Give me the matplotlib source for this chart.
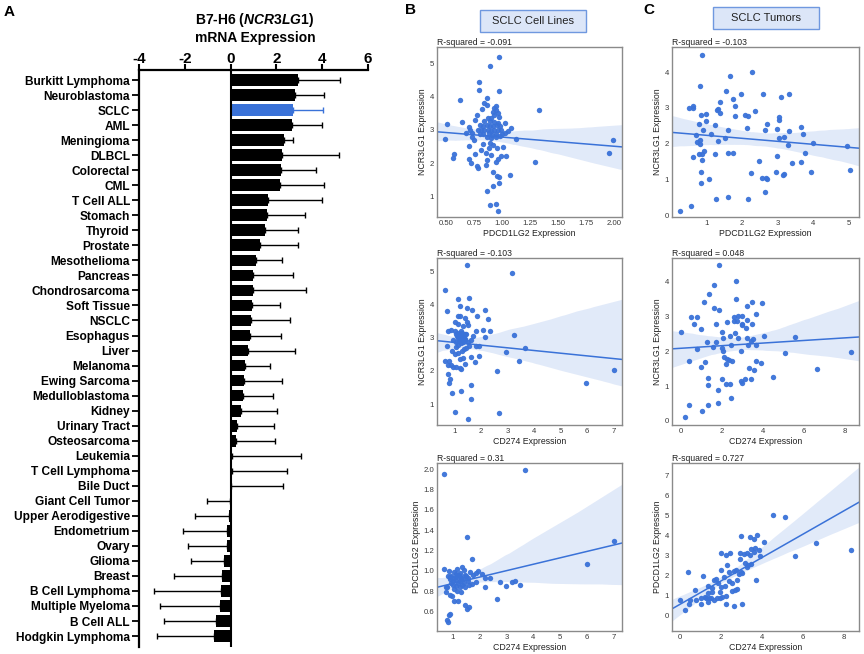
import matplotlib.pyplot as plt
from matplotlib.patches import Rectangle
import numpy as np
import seaborn as sns

plt.rcParams['font.family'] = ['Liberation Sans', 'DejaVu Sans']
plt.rcParams['axes.unicode_minus'] = False
plt.rcParams['mathtext.fontset'] = 'custom'
plt.rcParams['mathtext.it'] = 'Liberation Sans:italic:bold'
plt.rcParams['mathtext.rm'] = 'Liberation Sans:bold'

blue = '#3a72d8'

# panel A: mean expression and spread per tumour type
tumours = ['Burkitt Lymphoma', 'Neuroblastoma', 'SCLC', 'AML', 'Meningioma', 'DLBCL',
           'Colorectal', 'CML', 'T Cell ALL', 'Stomach', 'Thyroid', 'Prostate',
           'Mesothelioma', 'Pancreas', 'Chondrosarcoma', 'Soft Tissue', 'NSCLC',
           'Esophagus', 'Liver', 'Melanoma', 'Ewing Sarcoma', 'Medulloblastoma',
           'Kidney', 'Urinary Tract', 'Osteosarcoma', 'Leukemia', 'T Cell Lymphoma',
           'Bile Duct', 'Giant Cell Tumor', 'Upper Aerodigestive', 'Endometrium',
           'Ovary', 'Glioma', 'Breast', 'B Cell Lymphoma', 'Multiple Myeloma',
           'B Cell ALL', 'Hodgkin Lymphoma']
means = [2.94, 2.83, 2.72, 2.68, 2.35, 2.25, 2.22, 2.17, 1.64, 1.61, 1.49, 1.28,
         1.10, 0.99, 0.96, 0.93, 0.87, 0.83, 0.77, 0.65, 0.58, 0.52, 0.45, 0.29,
         0.25, 0.08, 0.07, 0.02, -0.02, -0.06, -0.17, -0.17, -0.29, -0.39, -0.41,
         -0.46, -0.65, -0.72]
sds = [1.84, 1.23, 1.31, 1.31, 0.36, 2.49, 1.52, 1.89, 2.35, 1.62, 1.45, 1.66,
       1.16, 1.73, 2.32, 1.23, 1.71, 1.37, 2.04, 1.06, 1.67, 1.34, 1.56, 1.62,
       1.71, 2.98, 2.39, 2.27, 1.02, 1.48, 1.92, 1.71, 1.43, 2.07, 2.95, 2.61,
       2.25, 2.51]

# panel B: SCLC cell lines, (x, y) per cell line
b1_pts = np.array([
    (0.97, 5.18), (0.89, 4.92), (0.79, 4.42), (0.79, 4.20), (0.97, 4.15), (0.62, 3.90), (0.86, 3.95),
    (0.84, 3.80), (0.86, 3.75), (0.94, 3.72), (0.93, 3.65), (0.94, 3.58), (0.92, 3.52), (0.96, 3.50),
    (0.93, 3.45), (0.77, 3.45), (0.82, 3.62), (1.33, 3.58), (0.97, 3.38), (1.02, 3.20), (0.87, 3.35),
    (0.90, 3.35), (0.84, 3.25), (0.89, 3.25), (0.93, 3.22), (0.96, 3.20), (0.64, 3.24), (0.51, 3.17),
    (0.70, 3.08), (0.80, 3.15), (0.83, 3.10), (0.86, 3.15), (0.89, 3.12), (0.92, 3.10), (0.95, 3.15),
    (0.98, 3.10), (0.78, 3.00), (0.81, 2.98), (0.84, 3.00), (0.87, 2.98), (0.90, 2.97), (0.93, 3.00),
    (0.96, 2.98), (0.99, 3.00), (0.71, 3.00), (0.73, 2.90), (0.80, 2.88), (0.83, 2.87), (0.88, 2.90),
    (0.91, 2.85), (0.94, 2.88), (1.00, 2.87), (1.02, 2.90), (0.86, 2.80), (0.90, 2.76), (0.94, 2.80),
    (0.98, 2.82), (0.68, 2.91), (0.49, 2.74), (0.73, 2.80), (1.12, 2.72), (1.99, 2.69), (1.95, 2.32),
    (0.83, 2.58), (0.89, 2.60), (0.92, 2.56), (0.70, 2.52), (0.57, 2.28), (0.56, 2.16), (0.76, 2.28),
    (0.70, 2.12), (0.72, 2.00), (0.77, 1.92), (1.29, 2.04), (0.85, 2.32), (0.86, 2.10), (0.94, 2.05),
    (0.96, 2.12), (0.99, 2.22), (1.03, 2.22), (0.90, 2.25), (1.07, 1.64), (0.92, 1.75), (0.95, 1.63),
    (0.97, 1.58), (0.97, 1.40), (0.92, 1.33), (0.86, 1.17), (0.89, 0.75), (0.94, 0.78), (0.96, 0.58),
    (0.78, 1.85), (0.85, 1.95), (0.81, 2.40), (0.95, 2.45), (1.01, 2.50), (0.88, 2.45), (0.75, 2.70),
    (1.05, 2.95), (1.08, 3.05), (0.76, 3.30)])

b2_pts = np.array([
    (1.48, 5.19), (3.15, 4.94), (0.64, 4.44), (1.14, 4.16), (1.54, 4.21), (1.19, 3.95), (1.48, 3.89),
    (1.64, 3.82), (0.71, 3.79), (2.14, 3.84), (2.25, 3.57), (1.84, 3.66), (1.14, 3.64), (1.21, 3.64),
    (1.01, 3.46), (1.12, 3.41), (1.41, 3.58), (1.48, 3.47), (1.50, 3.39), (1.31, 3.34), (0.75, 3.20),
    (0.87, 3.22), (1.00, 3.19), (1.24, 3.20), (1.81, 3.21), (2.06, 3.22), (2.34, 3.19), (2.15, 3.03),
    (3.25, 3.09), (1.10, 3.05), (1.15, 2.98), (1.22, 3.00), (1.28, 3.08), (1.35, 3.02), (1.40, 2.95),
    (1.18, 2.90), (1.25, 2.92), (1.32, 2.88), (1.45, 3.10), (1.05, 3.12), (1.12, 3.15), (1.38, 3.12),
    (1.20, 3.10), (1.30, 3.15), (1.26, 2.85), (0.94, 2.93), (1.04, 2.88), (1.41, 2.93), (1.50, 2.88),
    (1.62, 2.93), (1.68, 3.06), (1.04, 2.72), (1.14, 2.77), (0.71, 2.74), (1.81, 2.75), (1.91, 2.74),
    (3.66, 2.68), (2.94, 2.58), (0.91, 2.60), (1.00, 2.51), (1.12, 2.53), (1.94, 2.46), (1.62, 2.43),
    (1.19, 2.35), (1.31, 2.39), (3.44, 2.31), (0.66, 2.31), (0.81, 2.31), (1.79, 2.28), (1.39, 2.21),
    (0.75, 2.17), (0.87, 2.18), (0.96, 2.13), (1.06, 2.13), (1.25, 2.07), (1.22, 2.10), (2.60, 1.99),
    (7.00, 2.03), (0.76, 1.90), (0.84, 1.75), (0.78, 1.65), (1.62, 1.58), (5.96, 1.63), (0.91, 1.33),
    (1.26, 1.39), (1.61, 1.16), (1.01, 0.76), (2.69, 0.74), (1.49, 0.56), (1.35, 2.65), (1.45, 2.70),
    (1.55, 2.75), (1.28, 2.60)])

b3_pts = np.array([
    (0.68, 1.95), (3.70, 1.99), (1.53, 1.33), (7.00, 1.29), (1.71, 1.12), (6.01, 1.07), (0.66, 1.02),
    (0.85, 1.00), (1.05, 0.99), (1.15, 1.02), (1.25, 0.98), (1.40, 1.01), (1.45, 0.96), (0.95, 0.95),
    (1.10, 0.94), (1.20, 0.96), (1.30, 0.93), (1.50, 0.95), (0.90, 0.92), (1.00, 0.90), (1.12, 0.91),
    (1.25, 0.90), (1.38, 0.92), (1.55, 0.93), (1.75, 0.96), (1.87, 0.98), (1.95, 1.00), (2.08, 0.97),
    (2.39, 0.93), (0.81, 0.95), (0.88, 0.94), (1.00, 0.86), (1.12, 0.85), (1.25, 0.84), (1.35, 0.86),
    (1.45, 0.84), (1.15, 0.80), (1.30, 0.79), (1.60, 0.86), (1.72, 0.87), (1.85, 0.89), (0.80, 0.84),
    (0.76, 0.84), (2.20, 0.84), (2.21, 0.93), (2.76, 0.89), (2.98, 0.85), (3.21, 0.89), (3.31, 0.90),
    (3.51, 0.86), (2.65, 0.72), (0.73, 0.79), (0.88, 0.76), (0.98, 0.75), (1.04, 0.70), (1.19, 0.70),
    (1.44, 0.67), (1.54, 0.63), (1.59, 0.65), (0.84, 0.57), (0.88, 0.58), (0.79, 0.52), (0.81, 0.50),
    (1.05, 0.82), (1.20, 0.88), (1.40, 0.88), (1.10, 0.97), (1.65, 0.99), (1.35, 1.04), (1.58, 0.90),
    (1.02, 0.93), (0.95, 0.88), (1.28, 0.95)])

# panel C: SCLC tumours
c1_pts = np.array([
    (0.27, 0.11), (0.58, 0.26), (0.89, 4.47), (0.81, 3.62), (0.50, 3.00), (0.62, 3.00), (0.63, 3.04),
    (0.84, 2.79), (0.99, 2.82), (0.80, 2.55), (0.98, 2.62), (0.91, 2.39), (0.70, 2.25), (0.75, 2.05),
    (0.81, 1.99), (0.83, 2.11), (0.80, 1.70), (0.89, 1.70), (0.93, 1.80), (0.88, 1.53), (0.61, 1.62),
    (0.85, 1.22), (0.85, 0.90), (1.07, 1.01), (1.14, 2.27), (1.25, 2.52), (1.29, 2.95), (1.32, 2.98),
    (1.37, 2.86), (1.38, 3.17), (1.32, 2.08), (1.23, 1.70), (1.26, 0.45), (1.51, 2.15), (1.60, 2.37),
    (1.55, 3.48), (1.67, 3.88), (1.75, 3.24), (1.80, 3.05), (1.80, 2.78), (1.61, 1.75), (1.75, 1.75),
    (1.61, 0.50), (1.96, 3.38), (2.09, 2.79), (2.16, 2.76), (2.14, 2.44), (2.27, 4.00), (2.36, 2.90),
    (2.26, 1.19), (2.17, 0.45), (2.47, 1.51), (2.58, 3.39), (2.69, 2.55), (2.64, 2.39), (2.57, 1.04),
    (2.68, 1.04), (2.71, 1.02), (2.64, 0.64), (2.99, 2.41), (3.03, 2.74), (3.03, 2.65), (3.04, 2.15),
    (2.98, 1.66), (2.95, 1.20), (3.09, 3.29), (3.14, 1.12), (3.17, 1.14), (3.19, 2.18), (3.28, 1.97),
    (3.33, 2.34), (3.33, 3.38), (3.39, 1.45), (3.65, 2.46), (3.70, 2.27), (3.77, 1.73), (3.64, 1.49),
    (3.94, 1.20), (4.00, 2.02), (4.95, 1.94), (5.03, 1.26)])

c2_pts = np.array([
    (1.88, 4.50), (2.71, 4.02), (1.60, 3.90), (1.39, 3.65), (2.68, 3.51), (1.11, 3.41), (3.48, 3.42),
    (3.97, 3.39), (3.23, 3.31), (1.60, 3.26), (1.84, 3.19), (0.47, 2.99), (0.78, 2.99), (2.60, 3.00),
    (2.78, 3.02), (3.00, 3.02), (2.58, 2.88), (2.74, 2.88), (3.67, 3.07), (3.25, 2.90), (0.64, 2.80),
    (1.70, 2.80), (2.24, 2.84), (2.97, 2.80), (3.00, 2.76), (3.48, 2.78), (0.96, 2.64), (3.18, 2.67),
    (1.98, 2.57), (0.00, 2.57), (2.66, 2.52), (2.40, 2.44), (2.78, 2.39), (2.04, 2.39), (3.23, 2.40),
    (3.40, 2.30), (3.53, 2.35), (4.08, 2.45), (5.58, 2.42), (1.27, 2.27), (1.73, 2.28), (2.43, 2.18),
    (3.27, 2.17), (3.69, 2.17), (1.55, 2.13), (1.98, 2.10), (0.80, 2.07), (2.04, 2.00), (2.94, 2.02),
    (0.41, 1.72), (1.19, 1.70), (2.10, 1.83), (2.25, 1.77), (2.37, 1.75), (2.47, 1.71), (2.20, 1.63),
    (3.69, 1.73), (3.90, 1.66), (1.00, 1.54), (3.33, 1.52), (3.59, 1.45), (5.06, 1.95), (8.29, 1.97),
    (6.63, 1.49), (4.51, 1.27), (1.34, 1.23), (2.02, 1.20), (3.12, 1.20), (2.91, 1.14), (2.99, 1.09),
    (3.43, 1.21), (1.31, 1.02), (2.20, 1.06), (2.38, 1.07), (1.81, 0.90), (2.42, 0.66), (0.41, 0.46),
    (1.34, 0.47), (1.81, 0.50), (1.03, 0.27), (0.21, 0.11)])

c3_pts = np.array([
    (4.54, 5.03), (5.11, 4.95), (2.99, 4.00), (3.44, 3.95), (3.64, 3.83), (4.13, 3.67), (3.76, 4.05),
    (6.66, 3.65), (8.33, 3.28), (5.63, 2.98), (3.50, 3.35), (3.66, 3.40), (3.87, 3.30), (2.95, 3.15),
    (3.15, 3.10), (3.30, 3.12), (3.90, 3.00), (3.45, 3.05), (3.62, 3.18), (2.00, 3.15), (2.25, 3.03),
    (2.46, 3.12), (3.74, 1.78), (0.44, 2.17), (1.13, 1.97), (2.04, 2.27), (2.42, 2.17), (2.76, 2.28),
    (2.99, 2.20), (2.90, 2.10), (3.05, 2.15), (3.31, 2.45), (3.48, 2.58), (3.20, 2.62), (3.35, 2.55),
    (1.68, 1.78), (1.80, 1.82), (2.17, 1.95), (2.43, 1.75), (2.56, 1.65), (2.78, 1.78), (1.40, 1.50),
    (1.88, 1.62), (2.00, 1.42), (2.24, 1.50), (2.56, 1.25), (2.82, 1.32), (2.70, 1.30), (0.78, 1.28),
    (1.58, 1.17), (1.39, 1.12), (1.22, 0.95), (1.05, 0.87), (1.30, 0.88), (1.45, 0.87), (1.55, 0.87),
    (1.84, 0.87), (2.09, 0.95), (2.25, 1.00), (0.05, 0.78), (0.47, 0.62), (0.50, 0.78), (0.83, 0.78),
    (1.03, 0.62), (1.39, 0.70), (1.68, 0.78), (2.25, 0.62), (2.63, 0.52), (3.04, 0.62), (0.26, 0.28),
    (1.98, 0.88), (2.30, 2.55), (2.65, 2.25), (2.95, 2.85), (1.60, 1.40), (1.95, 1.20)])

W, H = 864, 654
fig = plt.figure(figsize=(8.64, 6.54), dpi=100)

# ---------- panel A ----------
axA = fig.add_axes([139 / W, 1 - 647 / H, 229 / W, 577 / H])
pos = np.arange(len(tumours))
for i, (m, s) in enumerate(zip(means, sds)):
    c = blue if tumours[i] == 'SCLC' else 'black'
    axA.barh(i, m, height=0.78, color=c)
    err = [[0], [s]] if m >= 0 else [[s], [0]]
    axA.errorbar(m, i, xerr=err, fmt='none', ecolor=c, elinewidth=1.0,
                 capsize=2.4, capthick=1.0)
axA.axvline(0, color='black', lw=1.5)
axA.set_xlim(-4, 6)
axA.set_ylim(37.73, -0.67)
axA.xaxis.tick_top()
axA.set_xticks([-4, -2, 0, 2, 4, 6])
axA.set_yticks(pos)
axA.set_yticklabels(tumours, fontweight='bold', fontsize=8.6)
for lab in axA.get_xticklabels():
    lab.set_fontweight('bold')
axA.tick_params(axis='x', labelsize=11, length=4, width=1.5, pad=-1)
axA.tick_params(axis='y', length=5, width=1.3, pad=1.5)
axA.spines['bottom'].set_visible(False)
axA.spines['right'].set_visible(False)
axA.spines['top'].set_linewidth(1.6)
axA.spines['left'].set_linewidth(1.6)

fig.text(255 / W, 1 - 28 / H, 'B7-H6 ($\\mathit{NCR3LG1}$)\nmRNA Expression',
         ha='center', va='center', fontsize=10, fontweight='bold', linespacing=1.15)


# ---------- panels B and C ----------
def scatter_panel(rect, pts, xlim, ylim, xticks, yticks, xlabel, ylabel, r2, xfmt='{:g}', yfmt='{:g}'):
    ax = fig.add_axes(rect)
    ax.set_xlim(xlim)
    ax.set_ylim(ylim)
    sns.regplot(x=pts[:, 0], y=pts[:, 1], ax=ax, truncate=False, seed=0, color=blue,
                scatter_kws=dict(s=15, linewidths=0, alpha=0.95),
                line_kws=dict(lw=1.1))
    ax.set_xlim(xlim)
    ax.set_ylim(ylim)
    ax.set_xticks(xticks)
    ax.set_xticklabels([xfmt.format(v) for v in xticks])
    ax.set_yticks(yticks)
    ax.set_yticklabels([yfmt.format(v) for v in yticks])
    ax.tick_params(length=0, labelsize=5.6, colors='#3a3a3a', pad=2)
    ax.set_xlabel(xlabel, fontsize=6.3, color='#222222', labelpad=1.5)
    ax.set_ylabel(ylabel, fontsize=6.3, color='#222222', labelpad=2)
    ax.set_title(r2, loc='left', fontsize=6.2, pad=1.5, color='#222222')
    for sp in ax.spines.values():
        sp.set_color('#8a8a8a')
        sp.set_linewidth(1.0)
    return ax


bx, bw = 437 / W, 185 / W
cx, cw = 672 / W, 187 / W
rows = [(47, 217), (258, 425), (463, 631)]
r = [(1 - b / H, (b - t) / H) for t, b in rows]

scatter_panel([bx, r[0][0], bw, r[0][1]], b1_pts, (0.417, 2.068), (0.39, 5.48),
              [0.5, 0.75, 1.0, 1.25, 1.5, 1.75, 2.0], [1, 2, 3, 4, 5],
              'PDCD1LG2 Expression', 'NCR3LG1 Expression', 'R-squared = -0.091',
              xfmt='{:.2f}')
scatter_panel([bx, r[1][0], bw, r[1][1]], b2_pts, (0.34, 7.31), (0.37, 5.40),
              [1, 2, 3, 4, 5, 6, 7], [1, 2, 3, 4, 5],
              'CD274 Expression', 'NCR3LG1 Expression', 'R-squared = -0.103')
scatter_panel([bx, r[2][0], bw, r[2][1]], b3_pts, (0.41, 7.31), (0.41, 2.06),
              [1, 2, 3, 4, 5, 6, 7], [0.6, 0.8, 1.0, 1.2, 1.4, 1.6, 1.8, 2.0],
              'CD274 Expression', 'PDCD1LG2 Expression', 'R-squared = 0.31',
              yfmt='{:.1f}')
scatter_panel([cx, r[0][0], cw, r[0][1]], c1_pts, (0.035, 5.28), (-0.05, 4.70),
              [1, 2, 3, 4, 5], [0, 1, 2, 3, 4],
              'PDCD1LG2 Expression', 'NCR3LG1 Expression', 'R-squared = -0.103')
scatter_panel([cx, r[1][0], cw, r[1][1]], c2_pts, (-0.44, 8.70), (-0.12, 4.69),
              [0, 2, 4, 6, 8], [0, 1, 2, 3, 4],
              'CD274 Expression', 'NCR3LG1 Expression', 'R-squared = 0.048')
scatter_panel([cx, r[2][0], cw, r[2][1]], c3_pts, (-0.36, 8.73), (-0.75, 7.62),
              [0, 2, 4, 6, 8], [0, 1, 2, 3, 4, 5, 6, 7],
              'CD274 Expression', 'PDCD1LG2 Expression', 'R-squared = 0.727')

# header boxes
for x0, x1, y0, y1, txt in [(480, 586, 10, 32, 'SCLC Cell Lines'),
                            (713, 819, 7, 29, 'SCLC Tumors')]:
    fig.add_artist(Rectangle((x0 / W, 1 - y1 / H), (x1 - x0) / W, (y1 - y0) / H,
                             transform=fig.transFigure, facecolor='#dce6f8',
                             edgecolor='#6f98df', lw=1))
    fig.text((x0 + x1) / 2 / W, 1 - (y0 + y1) / 2 / H, txt, ha='center', va='center',
             fontsize=8, color='#222222')

# panel letters
fig.text(9 / W, 1 - 12 / H, 'A', fontsize=11, fontweight='bold', ha='center', va='center')
fig.text(411 / W, 1 - 10 / H, 'B', fontsize=11, fontweight='bold', ha='center', va='center')
fig.text(649 / W, 1 - 10 / H, 'C', fontsize=11, fontweight='bold', ha='center', va='center')

fig.savefig('out.png', dpi=100)
